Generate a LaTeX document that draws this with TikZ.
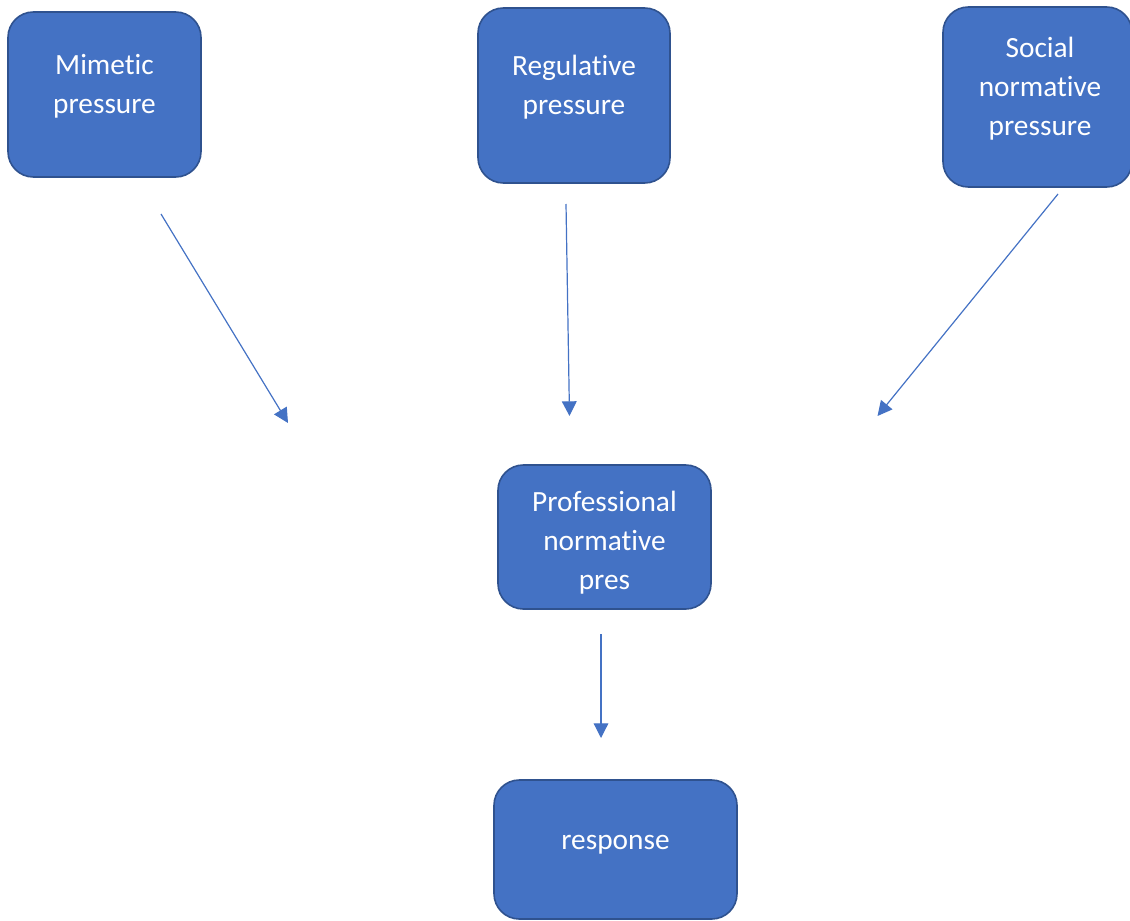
\documentclass[tikz,border=0pt]{standalone}
\usepackage{fontspec}
\setmainfont[Ligatures=NoCommon]{Carlito}
\usepackage{tikz}
\usetikzlibrary{arrows.meta}
\definecolor{boxblue}{HTML}{4472C4}
\definecolor{boxedge}{HTML}{2F528F}
\tikzstyle{pb}=[rectangle,rounded corners=19pt,draw=boxedge,fill=boxblue,line width=1.2pt]
\tikzstyle{lbl}=[text=white,align=center,font=\fontsize{22}{29.25}\selectfont,inner sep=0pt]
\tikzstyle{push}=[-{Triangle[length=11pt,width=11pt]},draw=boxblue,line width=0.9pt]

\begin{document}
\begin{tikzpicture}[x=0.75pt,y=-0.75pt]
    \useasboundingbox (0,0) rectangle (1130,920);
        \node[pb,minimum width=144.75pt,minimum height=123.75pt] (mim) at (104.5,94.5) {}
        ;
        \node[pb,minimum width=144pt,minimum height=131.25pt] (reg) at (574,95.5) {}
        ;
        \node[pb,minimum width=141.75pt,minimum height=135pt] (soc) at (1037.5,97) {}
        ;
        \node[pb,minimum width=159.75pt,minimum height=108pt] (pro) at (604.5,537) {}
        ;
        \node[pb,minimum width=182.25pt,minimum height=104.25pt] (res) at (615.5,849.5) {}
        ;
        \node[lbl] (mimt) at (104.5,86) {Mimetic\\pressure};
        \node[lbl] (regt) at (574,87.5) {Regulative\\pressure};
        \node[lbl] (soct) at (1040,89) {Social\\normative\\pressure};
        \node[lbl] (prot) at (604.5,543) {Professional\\normative\\pres};
        \node[lbl] (rest) at (615.5,845) {response};
        % arrow ends float between the boxes
        \coordinate (mimb) at (288,423);
        \coordinate (mima) at (161,214) edge[push] (mimb);
        \coordinate (regb) at (569.5,416);
        \coordinate (rega) at (566,204) edge[push] (regb);
        \coordinate (socb) at (877.5,416);
        \coordinate (soca) at (1058,194) edge[push] (socb);
        \coordinate (prob) at (601,738);
        \coordinate (proa) at (601,634) edge[push] (prob);
\end{tikzpicture}
\end{document}
